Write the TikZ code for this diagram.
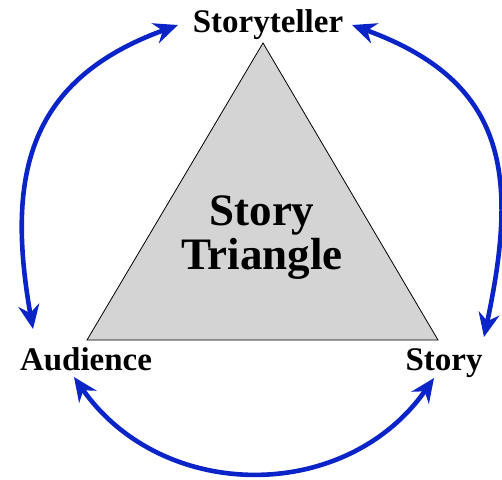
\documentclass[tikz,border=0pt]{standalone}
\usepackage{fontspec}
\setmainfont{Liberation Serif}
\usetikzlibrary{arrows.meta,positioning}
\definecolor{arcblue}{RGB}{10,36,200}
\definecolor{trianglegray}{RGB}{212,212,212}

\begin{document}
\begin{tikzpicture}[x=1pt,y=-1pt,
		corner label/.style={font=\fontsize{33}{33}\selectfont\bfseries,anchor=base},
		cycle arrow/.style={arcblue,line width=4.6pt,
			{Stealth[length=24pt,width=21pt]}-{Stealth[length=24pt,width=21pt]}}]
	\useasboundingbox (0,0) rectangle (502,479);

	% the triangle
	\coordinate (apex) at (263,43);
	\coordinate (left corner) at (87,340);
	\coordinate (right corner) at (438,340);
	\filldraw[fill=trianglegray,draw=black,line width=0.8pt]
		(apex) -- (left corner) -- (right corner) -- cycle;
	\node[align=center,font=\fontsize{45}{44}\selectfont\bfseries] (title) at (262,238) {Story\\Triangle};

	% the three corners
	\node[corner label] (storyteller) at (268,32) {Storyteller};
	\node[corner label] (audience) at (86,370) {Audience};
	\node[corner label] (story) at (444,370) {Story};

	% arrow ends
	\coordinate (st left) at (178,25);
	\coordinate (st right) at (352,25);
	\coordinate (au top) at (33,329);
	\coordinate (au bottom) at (74,377);
	\coordinate (sy top) at (484,337);
	\coordinate (sy bottom) at (434,378);

	\draw[cycle arrow] (st left) to[out=200,in=100,looseness=1.2] (au top);
	\draw[cycle arrow] (st right) to[out=-20,in=78,looseness=1.25] (sy top);
	\draw[cycle arrow] (au bottom) to[out=-55,in=-125,looseness=1.09] (sy bottom);
\end{tikzpicture}
\end{document}
